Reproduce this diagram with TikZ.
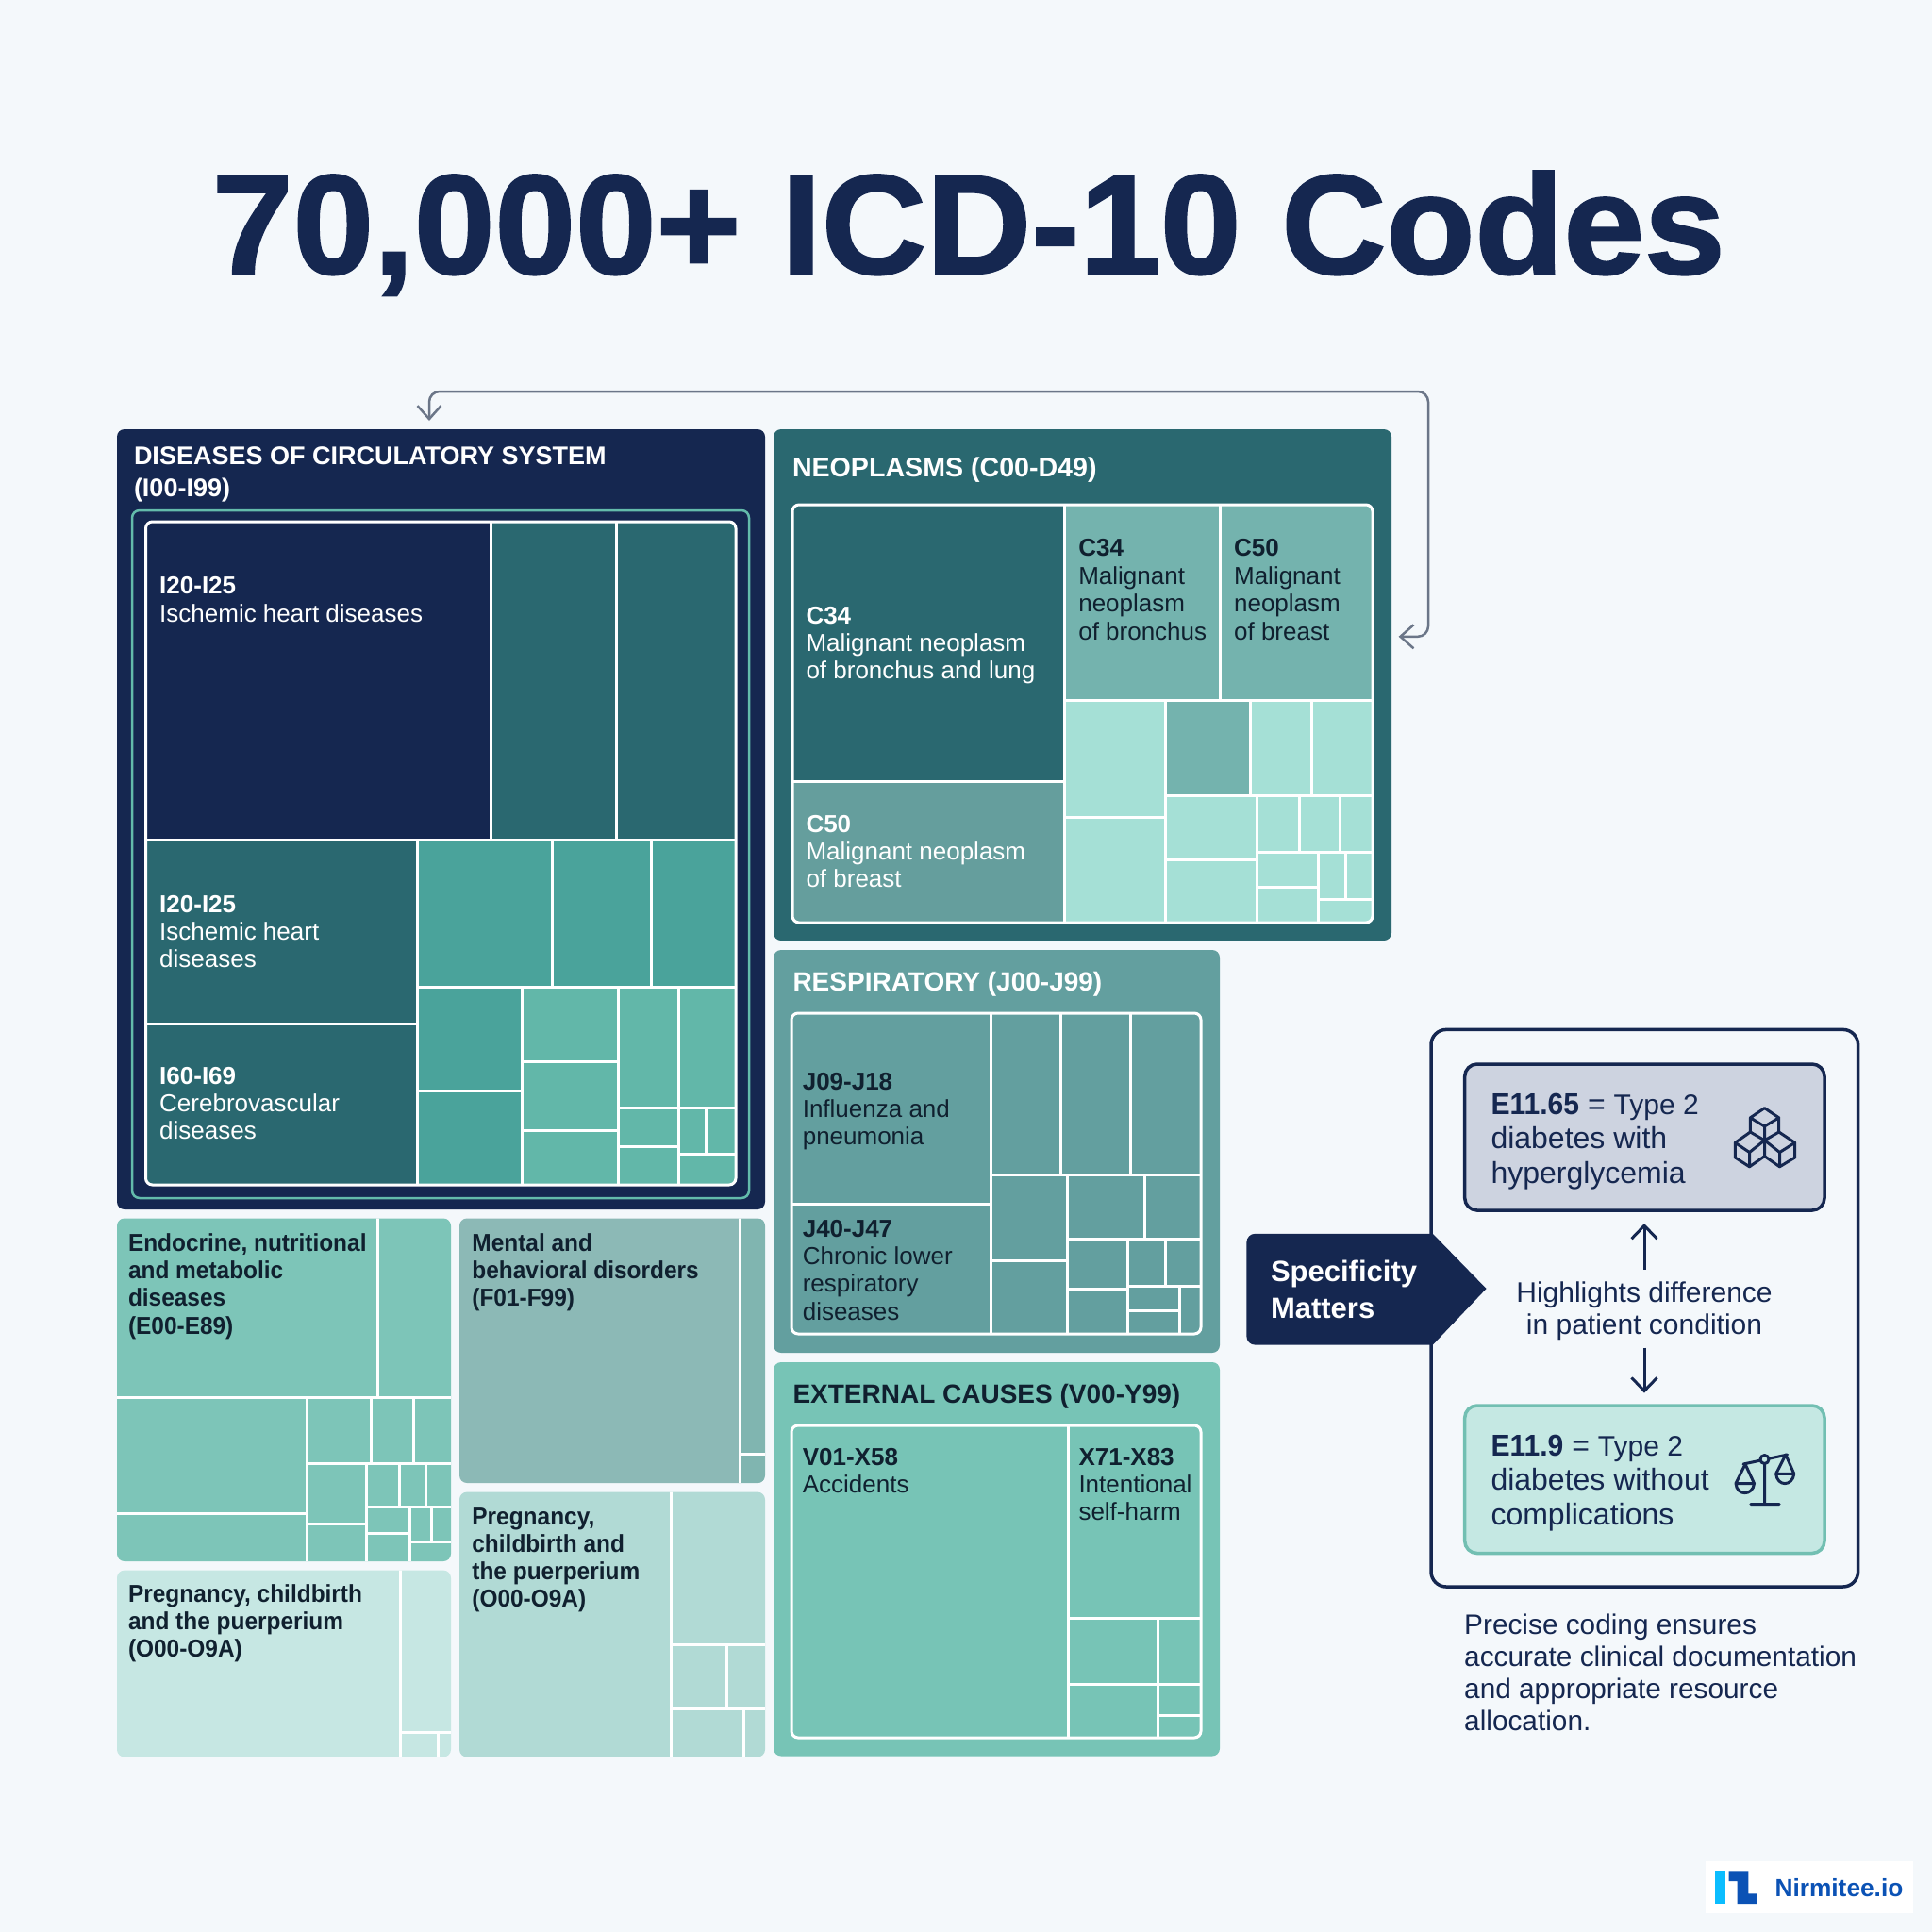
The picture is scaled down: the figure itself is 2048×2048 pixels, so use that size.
\documentclass[tikz,border=0pt]{standalone}
\usepackage{fontspec}
\setmainfont{Liberation Sans}
\newfontfamily\titlefont{Liberation Sans}[FakeStretch=1.026,BoldFeatures={FakeBold=1.5}]
\newfontfamily\catfont{Liberation Sans}[FakeStretch=0.94]
\usetikzlibrary{arrows.meta,fit}
\definecolor{navy}{HTML}{152750}
\definecolor{pagebg}{HTML}{F4F8FB}
\definecolor{tealdark}{HTML}{2A6870}
\definecolor{tealmid}{HTML}{4AA39B}
\definecolor{teallite}{HTML}{62B7A9}
\definecolor{outl}{HTML}{63BBAB}
\definecolor{neoB}{HTML}{659E9D}
\definecolor{neoC}{HTML}{74B3AE}
\definecolor{neoD}{HTML}{A5E0D6}
\definecolor{resp}{HTML}{639F9F}
\definecolor{extc}{HTML}{77C4B6}
\definecolor{endo}{HTML}{7DC5B8}
\definecolor{ment}{HTML}{8CB9B6}
\definecolor{mentS}{HTML}{80B5B0}
\definecolor{pregA}{HTML}{C6E7E3}
\definecolor{pregB}{HTML}{B1DAD5}
\definecolor{inkd}{HTML}{10202F}
\definecolor{boxA}{HTML}{CDD3E0}
\definecolor{boxB}{HTML}{C5E8E3}
\definecolor{boxBl}{HTML}{72BFB2}
\definecolor{conn}{HTML}{6B7688}
\definecolor{logoA}{HTML}{0BBDFF}
\definecolor{logoB}{HTML}{0B52B5}
\newcommand\stk[2]{\vtop{\baselineskip=#1pt\lineskiplimit=-50pt\lineskip=0pt #2}}
\newcommand\rowl[1]{\hbox{\strut #1}}
\newcommand\fs[2]{\fontsize{#1}{#2}\selectfont}
\newcommand\cb[1]{{\catfont\bfseries #1}}
\tikzset{
 panel/.style={inner sep=0pt,outer sep=0pt,rounded corners=8pt},
 gl/.style={draw=white,line width=3pt},
 frame/.style={draw=white,line width=3pt,rounded corners=7pt},
 lbl/.style={anchor=base west,inner sep=0pt,outer sep=0pt},
 hd/.style={lbl,font=\bfseries\fs{28}{34}},
 cell/.style={lbl,font=\fs{26}{29}},
 cat/.style={lbl,font=\catfont\bfseries\fs{26}{29},text=inkd},
 code/.style={lbl,font=\fs{32}{36.7},text=navy},
 flow/.style={draw=navy,line width=3pt,-{Straight Barb[length=14pt,width=27pt,line width=3pt]}},
 icon/.style={draw=navy,line width=3pt,line join=round,line cap=round},
}
\begin{document}
\begin{tikzpicture}[x=1pt,y=-1pt]
\useasboundingbox (0,0) rectangle (2048,2048);
\fill[pagebg] (0,0) rectangle (2048,2048);
% title
\node[lbl,text=navy,font=\titlefont\bfseries\fs{150}{150}] (title) at (225,290) {70,000+ ICD-10 Codes};
% CIRCULATORY
\node[panel,fill=navy,fit={(124,455)(811,1282)}] (circ) {};
\node[hd,text=white,font=\bfseries\fs{27}{34}] (circT) at (142,492.4) {\stk{34.5}{\rowl{DISEASES OF CIRCULATORY SYSTEM}\rowl{(I00-I99)}}};
\node[draw=outl,line width=2.5pt,inner sep=0pt,outer sep=0pt,rounded corners=8pt,fit={(140,541)(794,1270)}] (circO) {};
\begin{scope}
\clip[rounded corners=7pt] (154.5,553) rectangle (780,1256);
\fill[navy] (154.5,553) rectangle (520,890);
\fill[tealdark] (520,553) rectangle (780,890);
\fill[tealdark] (154.5,890) rectangle (442.4,1256);
\fill[tealmid] (442.4,890) rectangle (780,1046);
\fill[tealmid] (442.4,1046) rectangle (553.5,1256);
\fill[teallite] (553.5,1046) rectangle (780,1256);
\draw[gl] (154,890)--(780,890) (520,553)--(520,890) (653,553)--(653,890)
 (154,1085)--(442,1085) (442.4,890)--(442.4,1256) (585,890)--(585,1046) (690,890)--(690,1046)
 (442,1046)--(780,1046) (553.5,1046)--(553.5,1256) (655.5,1046)--(655.5,1256) (719,1046)--(719,1256)
 (553,1125.6)--(655,1125.6) (553,1198)--(655,1198) (442,1156.6)--(553,1156.6)
 (655,1174)--(780,1174) (655,1215)--(719,1215) (719,1223)--(780,1223) (748,1174)--(748,1223);
\end{scope}
\node[frame,inner sep=0pt,outer sep=0pt,fit={(154.5,553)(780,1256)}] (circF) {};
\node[cell,text=white] (c1) at (169.2,629.6) {\stk{29.4}{\rowl{\bfseries I20-I25}\rowl{Ischemic heart diseases}}};
\node[cell,text=white] (c2) at (169.2,967) {\stk{29.4}{\rowl{\bfseries I20-I25}\rowl{Ischemic heart}\rowl{diseases}}};
\node[cell,text=white] (c3) at (169.2,1149) {\stk{29.4}{\rowl{\bfseries I60-I69}\rowl{Cerebrovascular}\rowl{diseases}}};
% NEOPLASMS
\node[panel,fill=tealdark,fit={(820,455)(1475,997)}] (neo) {};
\node[hd,text=white,font=\bfseries\fs{28.6}{34}] (neoT) at (840,505) {NEOPLASMS (C00-D49)};
\begin{scope}
\clip[rounded corners=7pt] (840,535) rectangle (1455,978);
\fill[tealdark] (840,535) rectangle (1128,828);
\fill[neoB] (840,828) rectangle (1128,978);
\fill[neoC] (1128,535) rectangle (1455,742);
\fill[neoD] (1128,742) rectangle (1455,978);
\fill[neoC] (1235,742) rectangle (1325,843);
\draw[gl] (1128,535)--(1128,978) (840,828)--(1128,828) (1128,742)--(1455,742) (1293.5,535)--(1293.5,742)
 (1235,742)--(1235,978) (1128,866)--(1235,866) (1325,742)--(1325,843) (1390,742)--(1390,843)
 (1235,843)--(1455,843) (1332.5,843)--(1332.5,978) (1235,911.6)--(1332,911.6)
 (1377.5,843)--(1377.5,903) (1420,843)--(1420,903) (1332,903)--(1455,903) (1397,903)--(1397,978)
 (1332,940)--(1397,940) (1426,903)--(1426,953.6) (1397,953.6)--(1455,953.6);
\end{scope}
\node[frame,inner sep=0pt,outer sep=0pt,fit={(840,535)(1455,978)}] (neoF) {};
\node[cell,text=white] (n1) at (854.5,661) {\stk{29.2}{\rowl{\bfseries C34}\rowl{Malignant neoplasm}\rowl{of bronchus and lung}}};
\node[cell,text=white] (n2) at (854.5,882.4) {\stk{29.2}{\rowl{\bfseries C50}\rowl{Malignant neoplasm}\rowl{of breast}}};
\node[cell,text=inkd] (n3) at (1143.3,589.8) {\stk{29.4}{\rowl{\bfseries C34}\rowl{Malignant}\rowl{neoplasm}\rowl{of bronchus}}};
\node[cell,text=inkd] (n4) at (1308.1,589.8) {\stk{29.4}{\rowl{\bfseries C50}\rowl{Malignant}\rowl{neoplasm}\rowl{of breast}}};
% RESPIRATORY
\node[panel,fill=resp,fit={(820,1007)(1293,1434)}] (res) {};
\node[hd,text=white] (resT) at (840.5,1050.5) {RESPIRATORY (J00-J99)};
\begin{scope}
\clip[rounded corners=7pt] (839,1074) rectangle (1273,1414);
\draw[gl] (1050,1074)--(1050,1414) (839,1276)--(1050,1276) (1124,1074)--(1124,1245) (1198,1074)--(1198,1245)
 (1050,1245)--(1273,1245) (1131.7,1245)--(1131.7,1414) (1050,1336.7)--(1131,1336.7) (1131,1313)--(1273,1313)
 (1213,1245)--(1213,1313) (1195,1313)--(1195,1414) (1131,1366)--(1195,1366) (1235.7,1313)--(1235.7,1363.6)
 (1195,1363.6)--(1273,1363.6) (1250.7,1363.6)--(1250.7,1414) (1195,1389.5)--(1250,1389.5);
\end{scope}
\node[frame,inner sep=0pt,outer sep=0pt,fit={(839,1074)(1273,1414)}] (resF) {};
\node[cell,text=inkd] (r1) at (850.8,1155) {\stk{29.2}{\rowl{\bfseries J09-J18}\rowl{Influenza and}\rowl{pneumonia}}};
\node[cell,text=inkd] (r2) at (850.8,1311.5) {\stk{29.2}{\rowl{\bfseries J40-J47}\rowl{Chronic lower}\rowl{respiratory}\rowl{diseases}}};
% EXTERNAL
\node[panel,fill=extc,fit={(820,1444)(1293,1861.5)}] (ext) {};
\node[hd,text=inkd] (extT) at (840.5,1487.5) {EXTERNAL CAUSES (V00-Y99)};
\begin{scope}
\clip[rounded corners=7pt] (839,1511) rectangle (1273,1842);
\draw[gl] (1132.7,1511)--(1132.7,1842) (1132,1715.5)--(1273,1715.5) (1227,1715.5)--(1227,1842)
 (1132,1785.6)--(1273,1785.6) (1227,1818)--(1273,1818);
\end{scope}
\node[frame,inner sep=0pt,outer sep=0pt,fit={(839,1511)(1273,1842)}] (extF) {};
\node[cell,text=inkd] (e1) at (850.8,1553) {\stk{29.4}{\rowl{\bfseries V01-X58}\rowl{Accidents}}};
\node[cell,text=inkd] (e2) at (1143.5,1553) {\stk{29.4}{\rowl{\bfseries X71-X83}\rowl{Intentional}\rowl{self-harm}}};
% ENDOCRINE
\node[panel,fill=endo,fit={(124,1291.5)(478,1655)}] (endoP) {};
\begin{scope}
\clip[rounded corners=8pt] (124,1291.5) rectangle (478,1655);
\draw[gl] (400.7,1291)--(400.7,1481) (123,1481)--(478,1481) (325,1481)--(325,1655) (123,1604.5)--(325,1604.5)
 (325,1551)--(478,1551) (393,1481)--(393,1551) (438,1481)--(438,1551) (388.5,1551)--(388.5,1655)
 (325,1615)--(388,1615) (388,1597.6)--(478,1597.6) (423.4,1551)--(423.4,1597.6) (451,1551)--(451,1597.6)
 (434,1597.6)--(434,1655) (388,1625.6)--(434,1625.6) (457.4,1597.6)--(457.4,1634.8) (434,1634.8)--(478,1634.8);
\end{scope}
\node[cat] (endoT) at (136,1326.7) {\stk{29.1}{\rowl{Endocrine, nutritional}\rowl{and metabolic}\rowl{diseases}\rowl{(E00-E89)}}};
% MENTAL
\node[panel,fill=ment,fit={(487,1291.5)(811,1572)}] (mentP) {};
\begin{scope}
\clip[rounded corners=8pt] (487,1291.5) rectangle (811,1572);
\fill[mentS] (784,1291.5) rectangle (811,1572);
\draw[gl] (784,1291)--(784,1572) (784,1541)--(811,1541);
\end{scope}
\node[cat] (mentT) at (500.4,1326.7) {\stk{29.1}{\rowl{Mental and}\rowl{behavioral disorders}\rowl{(F01-F99)}}};
% PREGNANCY A
\node[panel,fill=pregA,fit={(124,1664.6)(478,1862.5)}] (pA) {};
\begin{scope}
\clip[rounded corners=8pt] (124,1664.6) rectangle (478,1862.5);
\draw[gl] (424.8,1664)--(424.8,1863) (425,1836)--(478,1836) (464.6,1836)--(464.6,1863);
\end{scope}
\node[cat] (pAT) at (136,1698) {\stk{29.4}{\rowl{Pregnancy, childbirth}\rowl{and the puerperium}\rowl{(O00-O9A)}}};
% PREGNANCY B
\node[panel,fill=pregB,fit={(487,1581.6)(811,1862.5)}] (pB) {};
\begin{scope}
\clip[rounded corners=8pt] (487,1581.6) rectangle (811,1862.5);
\draw[gl] (711.4,1581)--(711.4,1863) (711,1743.8)--(811,1743.8) (770.3,1743.8)--(770.3,1811) (711,1811)--(811,1811) (788.4,1811)--(788.4,1863);
\end{scope}
\node[cat] (pBT) at (500.4,1616) {\stk{29.3}{\rowl{Pregnancy,}\rowl{childbirth and}\rowl{the puerperium}\rowl{(O00-O9A)}}};
% gray connector
\coordinate (neoIn) at (1482.6,674.8);
\coordinate (circIn) at (455,446);
\draw[conn,line width=2.5pt,rounded corners=11pt,{Straight Barb[length=14pt,width=25pt,line width=2.5pt]}-{Straight Barb[length=14pt,width=25pt,line width=2.5pt]}]
 (neoIn) -- (1514,674.8) -- (1514,415) -- (455,415) -- (circIn);
% right box
\node[draw=navy,line width=3.5pt,rounded corners=16pt,inner sep=0pt,outer sep=0pt,fit={(1517,1091.4)(1969.6,1682)}] (outer) {};
\node[draw=navy,fill=boxA,line width=3.5pt,rounded corners=13pt,inner sep=0pt,outer sep=0pt,fit={(1552.7,1128)(1934,1283)}] (e65) {};
\node[draw=boxBl,fill=boxB,line width=3.5pt,rounded corners=13pt,inner sep=0pt,outer sep=0pt,fit={(1552.7,1490)(1934,1646.5)}] (e9) {};
\node[code] (e65T) at (1580.5,1181) {\stk{36.7}{\rowl{\cb{E11.65} = {\fontsize{30}{36}\selectfont Type 2}}\rowl{diabetes with}\rowl{hyperglycemia}}};
\node[code] (e9T) at (1580.5,1543) {\stk{36.5}{\rowl{\cb{E11.9} = {\fontsize{30}{36}\selectfont Type 2}}\rowl{diabetes without}\rowl{complications}}};
% pentagon
\fill[navy] (1518.8,1307.8) [rounded corners=9pt] -- (1321.4,1307.8) -- (1321.4,1425.6) [sharp corners] -- (1518.8,1425.6) -- (1575.5,1366) -- cycle;
\node[lbl,text=white,font=\bfseries\fs{31}{37}] (spec) at (1347,1358.5) {\stk{38.5}{\rowl{Specificity}\rowl{Matters}}};
\node[inner sep=0pt,outer sep=0pt,text=navy,font=\fs{30}{33.7},align=center] (hl) at (1743,1390) {Highlights difference\\in patient condition};
\coordinate (upS) at (1743,1345.5);
\coordinate (upE) at (1743,1297);
\coordinate (dnS) at (1743,1428.7);
\coordinate (dnE) at (1743,1476.6);
\draw[flow] (upS) -- (upE);
\draw[flow] (dnS) -- (dnE);
\node[lbl,text=navy,font=\fs{29.8}{34}] (prec) at (1552.2,1732) {\stk{34}{\rowl{Precise coding ensures}\rowl{accurate clinical documentation}\rowl{and appropriate resource}\rowl{allocation.}}};
% cubes icon
\draw[icon] (1870.5,1174.6)--(1885.7,1184.8)--(1885.7,1200)--(1870.5,1208.8)--(1855.4,1200)--(1855.4,1184.8)--cycle
 (1855.4,1184.8)--(1870.5,1194)--(1885.7,1184.8) (1870.5,1194)--(1870.5,1208.8);
\draw[icon] (1855.4,1200)--(1839.3,1211.3)--(1839.3,1227)--(1854.5,1236.8)--(1870.5,1225.6)--(1870.5,1208.8)
 (1839.3,1211.3)--(1854.5,1221.5)--(1870.5,1208.8) (1854.5,1221.5)--(1854.5,1236.8);
\draw[icon] (1885.7,1200)--(1902.7,1211.3)--(1902.7,1227)--(1886.5,1236.8)--(1870.5,1225.6)
 (1902.7,1211.3)--(1886.5,1221.5)--(1870.5,1208.8) (1886.5,1221.5)--(1886.5,1236.8);
% scales icon
\draw[icon] (1848,1552)--(1894.6,1542) (1870.5,1552)--(1870.5,1594.5) (1855.8,1594.5)--(1886,1594.5);
\draw[icon,fill=boxB] (1870.5,1547) circle (4.5);
\draw[icon] (1840,1572.5)--(1850,1552)--(1859.5,1572.5) (1840,1572.5)--(1859.5,1572.5) (1840,1572.5) .. controls (1841,1586) and (1858,1586) .. (1859.5,1572.5);
\draw[icon] (1882.6,1562.3)--(1892.9,1542)--(1901.8,1562.3) (1882.6,1562.3)--(1901.8,1562.3) (1882.6,1562.3) .. controls (1884,1576) and (1900,1576) .. (1901.8,1562.3);
% logo
\fill[white] (1808,1972.7) rectangle (2028,2028);
\fill[logoA] (1818,1983.3) rectangle (1829.3,2018);
\fill[logoB] (1832.7,1983.3)--(1853.3,1983.3)--(1853.3,2007.3)--(1862.7,2007.3)--(1862.7,2018)--(1841.7,2018)--(1841.7,1994)--(1832.7,1994)--cycle;
\node[lbl,text=logoB,font=\bfseries\fs{26.3}{30}] (brand) at (1881.5,2010) {Nirmitee.io};
\end{tikzpicture}
\end{document}
